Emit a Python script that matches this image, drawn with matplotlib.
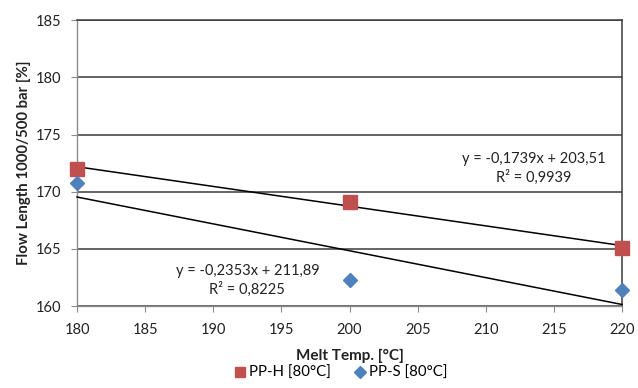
import numpy as np
import matplotlib
matplotlib.use("Agg")
import matplotlib.pyplot as plt

plt.rcParams['font.family'] = ['Lato', 'DejaVu Sans']

temps = [180, 200, 220]
pp_h = [172.0, 169.1, 165.1]
pp_s = [170.8, 162.3, 161.4]
label_h = "PP-H [80°C]"
label_s = "PP-S [80°C]"
eq_h = "y = -0,1739x + 203,51\nR² = 0,9939"
eq_s = "y = -0,2353x + 211,89\nR² = 0,8225"

fig = plt.figure(figsize=(6.38, 3.88), dpi=100)
ax = fig.add_axes([0.1207, 0.2113, 0.8543, 0.7367])

ax.set_xlim(180, 220)
ax.set_ylim(160, 185)
ax.set_xticks(np.arange(180, 221, 5))
ax.set_yticks(np.arange(160, 186, 5))
ax.yaxis.grid(True, color='#3a3a3a', linewidth=1.1)
ax.set_axisbelow(True)

for sp in ['left', 'bottom']:
    ax.spines[sp].set_color('#8c8c8c')
    ax.spines[sp].set_linewidth(1.0)
ax.spines['top'].set_color('#3a3a3a')
ax.spines['right'].set_color('#3a3a3a')
ax.spines['top'].set_linewidth(1.1)
ax.spines['right'].set_linewidth(1.1)

ax.tick_params(axis='both', direction='out', color='#8c8c8c', length=4, labelsize=10.5, labelcolor='#222222')
ax.tick_params(axis='x', pad=8)
ax.tick_params(axis='y', pad=7)

xs = np.array([180, 220])
for vals in (pp_h, pp_s):
    m, b = np.polyfit(temps, vals, 1)
    ax.plot(xs, m * xs + b, color='black', linewidth=1.1, zorder=3, clip_on=False)

ax.plot(temps, pp_h, linestyle='none', marker='s', markersize=10, color='#C0504D', label=label_h, zorder=4, clip_on=False)
ax.plot(temps, pp_s, linestyle='none', marker='D', markersize=7.5, color='#4F81BD', label=label_s, zorder=4, clip_on=False)

ax.text(213.5, 172.05, eq_h, ha='center', va='center', fontsize=10.5, color='#222222', linespacing=1.3)
ax.text(192.5, 162.2, eq_s, ha='center', va='center', fontsize=10.5, color='#222222', linespacing=1.3)

ax.set_xlabel("Melt Temp. [°C]", fontsize=11, fontweight='bold', color='#222222', labelpad=9)
ax.set_ylabel("Flow Length 1000/500 bar [%]", fontsize=10.8, fontweight='bold', color='#222222', labelpad=4)

fig.legend(loc='lower center', bbox_to_anchor=(0.533, -0.015), ncol=2, frameon=False, fontsize=10.8,
           handletextpad=0.05, columnspacing=1.5, handlelength=1.0, markerscale=0.75)

fig.savefig("out.png", dpi=100)
